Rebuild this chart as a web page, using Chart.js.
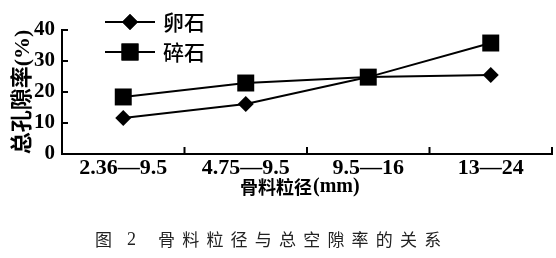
<!DOCTYPE html>
<html>
<head>
<meta charset="utf-8">
<script src="https://cdn.jsdelivr.net/npm/chart.js@4/dist/chart.umd.min.js"></script>
<style>
  html, body { margin: 0; padding: 0; background: #fff; }
  #wrap { width: 556px; height: 258px; }
</style>
</head>
<body>
<div id="wrap"><canvas id="mycanvas" width="556" height="258"></canvas></div>
<script>
var sizes = ["2.36\u20149.5", "4.75\u20149.5", "9.5\u201416", "13\u201424"];
var pebble = [11.6, 16.1, 24.8, 25.5];
var gravel = [18.4, 22.9, 24.8, 35.8];
var yTicks = [0, 10, 20, 30, 40];

var serif = "'Liberation Serif', 'Noto Sans CJK SC', serif";

// inward tick marks, x title, legend and caption
var extras = {
	id: "extras",
	afterDraw: function(chart) {
		var ctx = chart.ctx;
		var y = chart.scales.y;
		var area = chart.chartArea;
		ctx.save();
		ctx.strokeStyle = "#000";
		ctx.lineWidth = 2;
		ctx.beginPath();
		for (var i = 1; i < yTicks.length; i++) {
			var py = y.getPixelForValue(yTicks[i]);
			ctx.moveTo(area.left, py);
			ctx.lineTo(area.left + 6, py);
		}
		for (var j = 1; j <= sizes.length; j++) {
			var px = area.left + (area.right - area.left) * j / sizes.length;
			ctx.moveTo(px, area.bottom);
			ctx.lineTo(px, area.bottom - 7);
		}
		ctx.stroke();

		// x axis title
		ctx.fillStyle = "#000";
		ctx.textAlign = "left";
		ctx.textBaseline = "middle";
		ctx.font = "bold 18px 'Noto Sans CJK SC'";
		ctx.fillText("骨料粒径", 240, 187);
		ctx.font = "bold 20px 'Liberation Serif'";
		ctx.fillText("(mm)", 313, 187);

		// legend
		var rows = [{ t: "卵石", s: "rectRot", r: 8, y: 22 }, { t: "碎石", s: "rect", r: 12, y: 52 }];
		rows.forEach(function(row) {
			ctx.beginPath();
			ctx.moveTo(105, row.y);
			ctx.lineTo(155, row.y);
			ctx.lineWidth = 2;
			ctx.stroke();
			ctx.fillStyle = "#000";
			Chart.helpers.drawPoint(ctx, { pointStyle: row.s, radius: row.r, borderWidth: 0 }, 130, row.y);
			ctx.fill();
			ctx.font = "500 21px 'Noto Sans CJK SC'";
			ctx.textBaseline = "middle";
			ctx.textAlign = "left";
			ctx.fillText(row.t, 163, row.y);
		});

		// caption
		ctx.font = "17px 'Noto Sans CJK SC'";
		ctx.fillStyle = "#222";
		ctx.textAlign = "left";
		ctx.textBaseline = "middle";
		ctx.fillText("图", 95, 240);
		ctx.font = "18px 'Liberation Serif'";
		ctx.fillText("2", 127, 240);
		ctx.font = "17px 'Noto Sans CJK SC'";
		var cap = "骨料粒径与总空隙率的关系";
		for (var k = 0; k < cap.length; k++) {
			ctx.fillText(cap[k], 158 + k * 24.2, 240);
		}
		ctx.restore();
	}
};

var chartdata = {
	labels: sizes,
	datasets: [
		{
			label: "卵石",
			data: pebble,
			borderColor: "#000",
			backgroundColor: "#000",
			borderWidth: 2,
			pointStyle: "rectRot",
			pointRadius: 8,
			pointBorderWidth: 0,
			tension: 0
		},
		{
			label: "碎石",
			data: gravel,
			borderColor: "#000",
			backgroundColor: "#000",
			borderWidth: 2,
			pointStyle: "rect",
			pointRadius: 12,
			pointBorderWidth: 0,
			tension: 0
		}
	]
};

var ctx = document.getElementById("mycanvas");

var LineGraph = new Chart(ctx, {
	type: "line",
	data: chartdata,
	plugins: [extras],
	options: {
		responsive: false,
		animation: false,
		layout: { autoPadding: false, padding: { left: 0, right: 4, top: 30, bottom: 58 } },
		plugins: { legend: { display: false }, tooltip: { enabled: false } },
		scales: {
			x: {
				offset: true,
				grid: { display: false, drawTicks: false },
				border: { color: "#000", width: 2 },
				ticks: { color: "#000", padding: 1, font: { family: serif, size: 22, weight: "bold" } },
				afterFit: function(s) { s.height = 46; }
			},
			y: {
				min: 0,
				max: 40,
				afterBuildTicks: function(s) { s.ticks = yTicks.map(function(v) { return { value: v }; }); },
				grid: { display: false, drawTicks: false },
				border: { color: "#000", width: 2 },
				ticks: { color: "#000", padding: 7, font: { family: serif, size: 21, weight: "bold" } },
				title: {
					display: true,
					text: "总孔隙率(%)",
					color: "#000",
					padding: { top: 10, bottom: 0 },
					font: { family: serif, size: 22, weight: "bold" }
				},
				afterFit: function(s) { s.width = 62; }
			}
		}
	}
});
</script>
</body>
</html>
